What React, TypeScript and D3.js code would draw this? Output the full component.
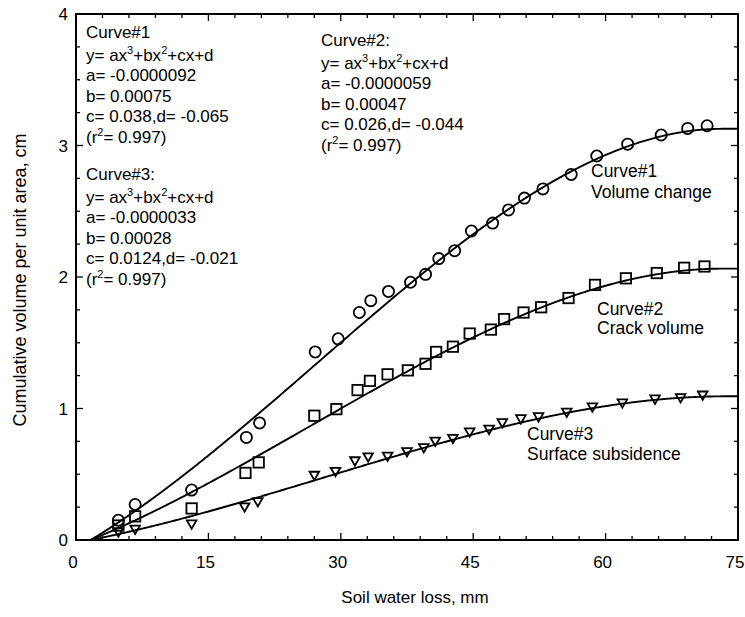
import React from "react";
import * as d3 from "d3";

// ---- data ----
const volX = [4.8, 6.7, 13.1, 19.3, 20.8, 27.1, 29.7, 32.1, 33.4, 35.4, 37.9, 39.6, 41.1, 42.9, 44.8, 47.2, 49.0, 50.8, 52.9, 56.1, 59.0, 62.5, 66.3, 69.3, 71.5];
const volY = [0.15, 0.27, 0.38, 0.78, 0.89, 1.43, 1.53, 1.73, 1.82, 1.89, 1.96, 2.02, 2.14, 2.20, 2.35, 2.41, 2.51, 2.60, 2.67, 2.78, 2.92, 3.01, 3.08, 3.13, 3.15];

const crackX = [4.8, 6.7, 13.1, 19.2, 20.7, 27.0, 29.5, 31.9, 33.3, 35.3, 37.6, 39.6, 40.8, 42.7, 44.6, 47.0, 48.5, 50.7, 52.7, 55.8, 58.8, 62.3, 65.8, 68.9, 71.2];
const crackY = [0.11, 0.18, 0.24, 0.51, 0.59, 0.945, 0.995, 1.14, 1.21, 1.26, 1.29, 1.34, 1.43, 1.47, 1.57, 1.60, 1.68, 1.73, 1.77, 1.84, 1.94, 1.99, 2.03, 2.07, 2.08];

const subsX = [4.8, 6.7, 13.1, 19.1, 20.6, 27.0, 29.4, 31.6, 33.1, 35.3, 37.5, 39.4, 40.7, 42.7, 44.6, 46.8, 48.3, 50.4, 52.4, 55.6, 58.5, 61.9, 65.6, 68.5, 71.0];
const subsY = [0.06, 0.08, 0.12, 0.25, 0.29, 0.49, 0.52, 0.60, 0.63, 0.635, 0.67, 0.70, 0.75, 0.77, 0.82, 0.84, 0.89, 0.92, 0.935, 0.97, 1.01, 1.04, 1.07, 1.08, 1.10];

// fitted cubic coefficients [a, b, c, d] as printed in the chart
const coef1 = [-0.0000092, 0.00075, 0.038, -0.065];
const coef2 = [-0.0000059, 0.00047, 0.026, -0.044];
const coef3 = [-0.0000033, 0.00028, 0.0124, -0.021];

const xTicks = [0, 15, 30, 45, 60, 75];
const yTicks = [0, 1, 2, 3, 4];

const W = 745;
const H = 617;
const FONT = "'Liberation Sans', Arial, Helvetica, sans-serif";

const x = d3.scaleLinear().domain([0, 75]).range([76, 738]);
const y = d3.scaleLinear().domain([0, 4]).range([540, 14]);

function cubic(c: number[], v: number) {
  return c[0] * v * v * v + c[1] * v * v + c[2] * v + c[3];
}

function fitLine(c: number[]) {
  const pts: [number, number][] = [];
  let peak = -Infinity;
  for (let v = 0; v <= 75.0001; v += 0.1) {
    const yy = cubic(c, v);
    if (yy < 0) continue;
    peak = Math.max(peak, yy);
    pts.push([v, peak]);
  }
  const line = d3.line<[number, number]>().x((p) => x(p[0])).y((p) => y(p[1]));
  return line(pts) || "";
}

function Block({ x0, ys, title, a, b, cd }: { x0: number; ys: number[]; title: string; a: string; b: string; cd: string }) {
  return (
    <g fontFamily={FONT} fontSize={17} fill="#000">
      <text x={x0} y={ys[0]}>{title}</text>
      <text x={x0} y={ys[1]}>
        y= ax<tspan dy={-7} fontSize={11}>3</tspan>
        <tspan dy={7}>+bx</tspan>
        <tspan dy={-7} fontSize={11}>2</tspan>
        <tspan dy={7}>+cx+d</tspan>
      </text>
      <text x={x0} y={ys[2]}>{a}</text>
      <text x={x0} y={ys[3]}>{b}</text>
      <text x={x0} y={ys[4]}>{cd}</text>
      <text x={x0} y={ys[5]}>
        (r<tspan dy={-7} fontSize={11}>2</tspan>
        <tspan dy={7}>= 0.997)</tspan>
      </text>
    </g>
  );
}

export default function App() {
  const xMinor = d3.range(0, 75.001, 3);
  const yMinor = d3.range(0, 4.001, 0.25);
  const left = x(0), right = x(75), top = y(4), bottom = y(0);

  const tri = (cx: number, cy: number) => {
    const s = 4.8;
    return `M${cx - s},${cy - s * 0.8}L${cx + s},${cy - s * 0.8}L${cx},${cy + s * 0.95}Z`;
  };

  return (
    <svg width={W} height={H} style={{ position: "absolute", left: 0, top: 0, background: "#fff" }}>
      <rect x={0} y={0} width={W} height={H} fill="#fff" />

      {/* ticks */}
      <g stroke="#000" strokeWidth={1.3}>
        {xMinor.map((v) => {
          const len = v % 15 === 0 ? 7 : 4;
          return (
            <g key={"xt" + v}>
              <line x1={x(v)} x2={x(v)} y1={bottom} y2={bottom - len} />
              <line x1={x(v)} x2={x(v)} y1={top} y2={top + len} />
            </g>
          );
        })}
        {yMinor.map((v) => {
          const len = Math.abs(v - Math.round(v)) < 1e-6 ? 7 : 4;
          return (
            <g key={"yt" + v}>
              <line x1={left} x2={left + len} y1={y(v)} y2={y(v)} />
              <line x1={right} x2={right - len} y1={y(v)} y2={y(v)} />
            </g>
          );
        })}
      </g>

      {/* frame */}
      <rect x={left} y={top} width={right - left} height={bottom - top} fill="none" stroke="#000" strokeWidth={2} />

      {/* fitted curves */}
      <g fill="none" stroke="#000" strokeWidth={1.9}>
        <path d={fitLine(coef1)} />
        <path d={fitLine(coef2)} />
        <path d={fitLine(coef3)} />
      </g>

      {/* markers */}
      <g fill="none" stroke="#000" strokeWidth={1.8}>
        {volX.map((v, i) => (
          <circle key={"c" + i} cx={x(v)} cy={y(volY[i])} r={5.6} />
        ))}
        {crackX.map((v, i) => (
          <rect key={"s" + i} x={x(v) - 5.2} y={y(crackY[i]) - 5.2} width={10.4} height={10.4} />
        ))}
        {subsX.map((v, i) => (
          <path key={"t" + i} d={tri(x(v), y(subsY[i]))} />
        ))}
      </g>

      {/* tick labels */}
      <g fontFamily={FONT} fontSize={17} fill="#000">
        {xTicks.map((v) => (
          <text key={"xl" + v} x={x(v) - 3} y={568} textAnchor="middle">{v}</text>
        ))}
        {yTicks.map((v) => (
          <text key={"yl" + v} x={68} y={y(v) + 6} textAnchor="end">{v}</text>
        ))}
      </g>

      {/* axis titles */}
      <text x={415} y={603} textAnchor="middle" fontFamily={FONT} fontSize={17}>Soil water loss, mm</text>
      <text transform="translate(26,280) rotate(-90)" textAnchor="middle" fontFamily={FONT} fontSize={18}>
        Cumulative volume per unit area, cm
      </text>

      {/* equation blocks */}
      <Block x0={86} ys={[38, 61, 81, 102, 122, 143]} title="Curve#1" a="a= -0.0000092" b="b= 0.00075" cd="c= 0.038,d= -0.065" />
      <Block x0={321} ys={[46, 69, 89, 110, 130, 151]} title="Curve#2:" a="a= -0.0000059" b="b= 0.00047" cd="c= 0.026,d= -0.044" />
      <Block x0={86} ys={[180, 203, 223, 244, 264, 285]} title="Curve#3:" a="a= -0.0000033" b="b= 0.00028" cd="c= 0.0124,d= -0.021" />

      {/* curve labels */}
      <g fontFamily={FONT} fontSize={17.5} fill="#000">
        <text x={591} y={177}>Curve#1</text>
        <text x={591} y={198}>Volume change</text>
        <text x={597} y={315}>Curve#2</text>
        <text x={597} y={334}>Crack volume</text>
        <text x={527} y={440}>Curve#3</text>
        <text x={527} y={460}>Surface subsidence</text>
      </g>
    </svg>
  );
}
